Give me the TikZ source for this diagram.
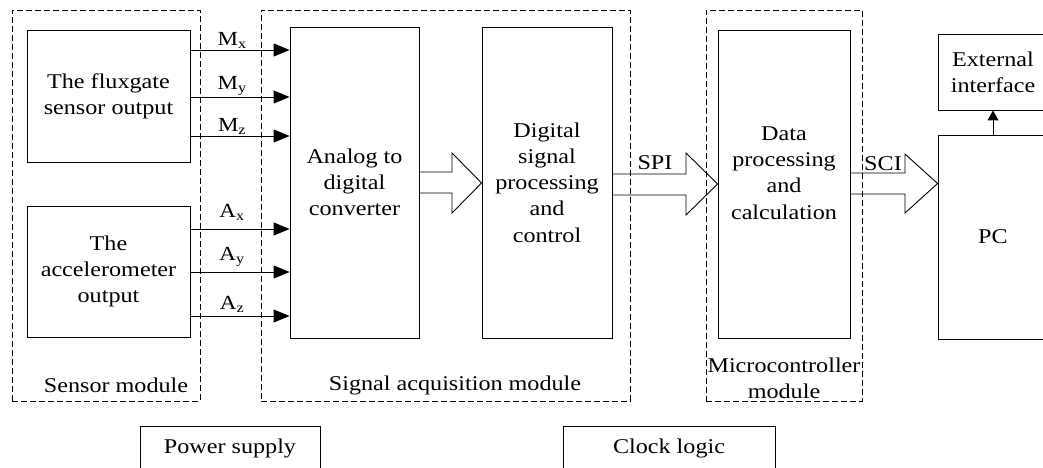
\documentclass[tikz,border=0pt]{standalone}
\usepackage{fontspec}
\setmainfont{Liberation Serif}[FakeStretch=1.15]
\usetikzlibrary{arrows.meta}

\begin{document}
\begin{tikzpicture}[
    x=1pt, y=-1pt,
    font=\fontsize{21}{26.3}\selectfont,
    box/.style={draw, line width=0.9pt, align=center, inner sep=0pt},
    module/.style={draw, line width=0.8pt, dash pattern=on 6pt off 3pt, inner sep=0pt},
    txt/.style={align=center, inner sep=0pt},
    lbl/.style={font=\fontsize{20}{24}\selectfont, pos=0.42, above=1pt, inner sep=0pt},
    sig/.style={line width=0.9pt, -{Triangle[length=16pt,width=13pt]}},
    fat/.style={line width=0.9pt, line join=miter}
  ]
  \useasboundingbox (0,0) rectangle (1043,468);

  % module frames
  \node[module, minimum width=188, minimum height=391] (sensmod) at (106,205.5) {};
  \node[module, minimum width=369, minimum height=391] (acqmod) at (445.5,205.5) {};
  \node[module, minimum width=156, minimum height=391] (mcumod) at (784,205.5) {};
  \node[txt] (senslbl) at (116,385) {Sensor module};
  \node[txt] (acqlbl) at (455,385) {Signal acquisition module};
  \node[txt] (mculbl) at (784,378) {Microcontroller\\module};

  % blocks
  \node[box, minimum width=163, minimum height=132] (flux) at (108.5,96) {The fluxgate\\sensor output};
  \node[box, minimum width=163, minimum height=131] (acc) at (108.5,271.5) {The\\accelerometer\\output};
  \node[box, minimum width=129, minimum height=311] (adc) at (354.5,182.5) {Analog to\\digital\\converter};
  \node[box, minimum width=130, minimum height=311] (dsp) at (547,182.5) {Digital\\signal\\processing\\and\\control};
  \node[box, minimum width=132, minimum height=308] (dat) at (784,184) {};
  \node[txt] (dattxt) at (784,173) {Data\\processing\\and\\calculation};
  \node[box, minimum width=110, minimum height=76] (ext) at (993,72) {External\\interface};
  \node[box, minimum width=110, minimum height=204] (pc) at (993,237) {PC};
  \node[box, minimum width=180, minimum height=44, anchor=north] (power) at (230,426) {Power supply};
  \node[box, minimum width=212, minimum height=44, anchor=north] (clock) at (669,426) {Clock logic};

  % sensor outputs
  \draw[sig] (flux.east |- 0,50) -- node[lbl] {M\textsubscript{x}} (adc.west |- 0,50);
  \draw[sig] (flux.east |- 0,97) -- node[lbl] {M\textsubscript{y}} (adc.west |- 0,97);
  \draw[sig] (flux.east |- 0,136) -- node[lbl] {M\textsubscript{z}} (adc.west |- 0,136);
  \draw[sig] (acc.east |- 0,229) -- node[lbl, above=7pt] {A\textsubscript{x}} (adc.west |- 0,229);
  \draw[sig] (acc.east |- 0,272) -- node[lbl, above=4pt] {A\textsubscript{y}} (adc.west |- 0,272);
  \draw[sig] (acc.east |- 0,316) -- node[lbl, above=2pt] {A\textsubscript{z}} (adc.west |- 0,316);

  % buses
  \draw[fat] (adc.east |- 0,172) -- (452,172) -- (452,153) -- (dsp.west |- 0,183)
    -- (452,213) -- (452,193) -- (adc.east |- 0,193);
  \draw[fat] (dsp.east |- 0,174) -- (686,174) -- (686,153) -- (dat.west |- 0,184)
    -- (686,215) -- (686,195) -- (dsp.east |- 0,195);
  \draw[fat] (dat.east |- 0,173) -- (905,173) -- (905,154) -- (pc.west |- 0,183.5)
    -- (905,213) -- (905,194) -- (dat.east |- 0,194);
  \node (spi) at (655,163) {SPI};
  \node (sci) at (883,164) {SCI};

  \draw[line width=0.9pt, -{Triangle[length=10pt,width=11pt]}] (pc.north) -- (ext.south);
\end{tikzpicture}
\end{document}
